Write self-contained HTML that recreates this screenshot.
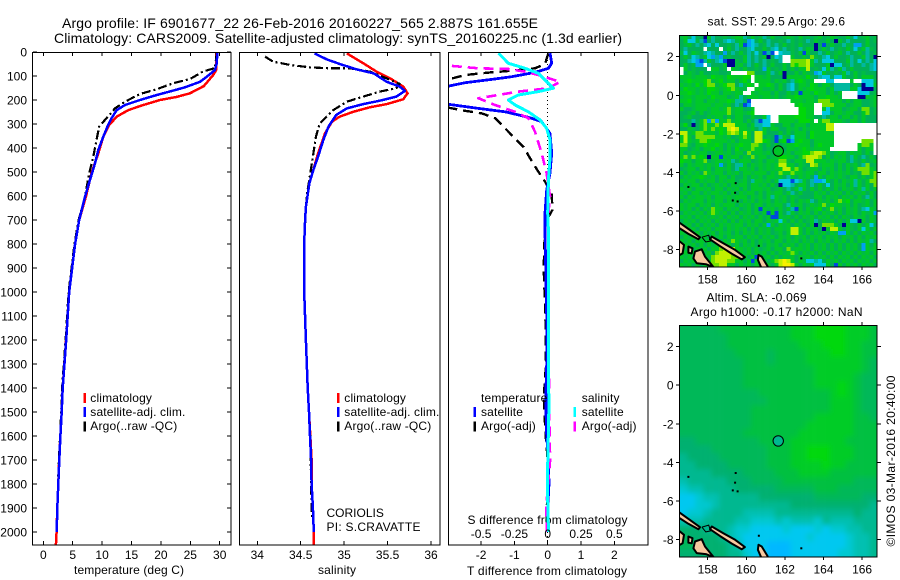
<!DOCTYPE html>
<html lang="en">
<head>
<meta charset="utf-8">
<title>Argo profile 6901677</title>
<style>
html,body{margin:0;padding:0;background:#fff;width:900px;height:580px;overflow:hidden}
svg{display:block}
text{font-family:"Liberation Sans",sans-serif;font-size:12px;fill:#000}
</style>
</head>
<body>
<svg id="figure" xmlns="http://www.w3.org/2000/svg" width="900" height="580" viewBox="0 0 900 580">
<defs>
<clipPath id="clip-t"><rect x="33" y="52" width="198" height="493"/></clipPath>
<clipPath id="clip-s"><rect x="240" y="52" width="200" height="493"/></clipPath>
<clipPath id="clip-d"><rect x="449" y="52" width="199" height="493"/></clipPath>
<clipPath id="clip-m1"><rect x="679.5" y="35" width="197.5" height="232"/></clipPath>
<clipPath id="clip-m2"><rect x="679.5" y="325" width="197.5" height="232"/></clipPath>
<filter id="soft" x="-5%" y="-5%" width="110%" height="110%"><feGaussianBlur stdDeviation="2.6"/></filter>
</defs>
<rect x="0" y="0" width="900" height="580" fill="#fff"/>
<text x="62" y="28" style="font-size:14px" textLength="476">Argo profile: IF 6901677_22 26-Feb-2016 20160227_565 2.887S 161.655E</text>
<text x="54" y="43" style="font-size:14px" textLength="568">Climatology: CARS2009. Satellite-adjusted climatology: synTS_20160225.nc (1.3d earlier)</text>
<text x="74" y="574" textLength="110">temperature (deg C)</text>
<text x="318" y="574" textLength="38">salinity</text>
<text x="467" y="575" textLength="160">T difference from climatology</text>
<text x="467.5" y="524" textLength="160">S difference from climatology</text>
<text x="326.5" y="517">CORIOLIS</text>
<text x="326.5" y="531" textLength="94">PI: S.CRAVATTE</text>
<text x="707.5" y="25.5" textLength="137.5">sat. SST: 29.5 Argo: 29.6</text>
<text x="706.5" y="301.5" textLength="100">Altim. SLA: -0.069</text>
<text x="690.5" y="316" textLength="172">Argo h1000: -0.17 h2000: NaN</text>
<text transform="translate(895,546.5) rotate(-90)" x="0" y="0" textLength="171">©IMOS 03-Mar-2016 20:40:00</text>
<g id="charts"></g>
</svg>
<script>
// ---- Profile data ----
const climDepth = [0,75,96,142,172,187,200,221,242,269,304,353,422,505,603,700,800,1000,1200,1400,1500,1600,1700,1800,1900,2000,2054];
const climTemp = [29.4,29.4,28.9,27.3,24.95,22.7,19.85,17,14.45,12.5,11.2,10.2,9.35,8.2,7.25,6.1,5.4,4.4,3.88,3.3,3.13,2.9,2.7,2.55,2.38,2.27,2.15];
const satDepth = [0,46,75,103,124,147,161,179,200,221,242,276,311,353,408,464,533,603,700,800,1000,1200,1400,1500,1600,1700,1800,1900,2000];
const satTemp = [29.6,29.5,29.2,27.8,26.65,24.1,22.1,19.3,16.45,13.9,12.5,11.6,10.9,10.2,9.35,8.8,7.95,7.1,6.1,5.4,4.4,3.9,3.3,3.13,2.9,2.72,2.55,2.38,2.28];
const argoDepth = [0,67,81,112,130,155,175,207,235,283,311,367,436,505,603,700,800,1000,1200,1400,1500,1600,1700,1800];
const argoTemp = [29.5,29.2,27.2,25,22.1,19.3,16.45,13.9,12.2,10.5,9.5,9.05,8.5,7.8,7.1,6.0,5.3,4.3,3.8,3.2,3.05,2.85,2.65,2.5];

const climSalDepth = [6,47,82,110,144,172,197,217,230,249,269,290,339,422,492,547,645,700,800,1000,1200,1400,1500,1600,1700,1800,1900,2000,2054];
const climSal = [35.03,35.22,35.375,35.53,35.68,35.73,35.68,35.49,35.30,35.105,34.95,34.86,34.78,34.70,34.645,34.60,34.56,34.55,34.54,34.54,34.56,34.58,34.595,34.61,34.625,34.625,34.64,34.65,34.65];
const satSalDepth = [6,31,50,72,89,124,144,162,186,203,217,235,262,311,367,436,492,547,645,700,800,1000,1200,1400,1500,1600,1700,1800,1900,2000];
const satSal = [34.66,34.80,34.95,35.14,35.34,35.49,35.64,35.70,35.60,35.41,35.22,35.03,34.91,34.82,34.76,34.70,34.645,34.60,34.56,34.55,34.54,34.54,34.56,34.58,34.595,34.607,34.62,34.625,34.64,34.65];
const argoSalDepth = [19,40,54,64,68,68,82,110,133,151,165,186,207,242,297,353,436,505,587,645,800,1000,1200,1400,1600,1800,1950];
const argoSal = [34.09,34.18,34.38,34.61,34.84,35.07,35.30,35.49,35.64,35.60,35.41,35.22,35.03,34.875,34.72,34.675,34.64,34.61,34.575,34.56,34.54,34.54,34.56,34.58,34.61,34.62,34.63];

const diffSatTDepth = [5,47,68,85,103,114,128,142,165,200,218,235,249,272,290,339,422,505,575,671,742,900,1100,1300,1400,1500,1600,1700,1800,1900,2000];
const diffSatT = [0.07,0.12,0.02,-0.38,-1.08,-1.68,-2.48,-2.98,-4,-4,-2.98,-2.08,-1.28,-0.58,-0.18,0.07,0.12,0.07,-0.03,-0.08,-0.08,-0.06,-0.03,-0.03,-0.05,-0.05,-0.03,0.02,0.04,0,0];
const diffArgoTDepth = [5,50,68,78,86,96,114,150,200,232,245,256,276,332,395,443,499,540,589,658,713,900,1100,1300,1400,1500,1600,1700,1800,1900,2000];
const diffArgoT = [0.02,-0.08,-0.38,-1.08,-1.78,-2.48,-2.98,-5,-5,-2.98,-2.48,-1.98,-1.58,-1.18,-0.73,-0.53,-0.28,-0.08,0.12,0.14,-0.08,-0.12,-0.07,-0.05,-0.1,-0.1,-0.06,0,0.02,-0.03,-0.02];
const diffSatSDepth = [5,47,68,89,117,151,165,179,200,221,249,283,318,367,436,533,671,742,1000,1500,1800,2000];
const diffSatS = [-0.37,-0.295,-0.17,-0.07,-0.02,0.043,-0.07,-0.22,-0.295,-0.245,-0.145,-0.058,-0.008,0.018,0.018,0.005,0,0.005,0.006,0.008,-0.003,0.006];
const diffArgoSDepth = [58,68,71,82,96,124,151,165,186,193,221,249,276,332,422,505,603,671,1000,1500,1700,1900,2000];
const diffArgoS = [-0.72,-0.52,-0.295,-0.17,-0.07,0.093,0.005,-0.22,-0.445,-0.52,-0.395,-0.245,-0.145,-0.095,-0.045,-0.008,0.018,0.005,0.004,0.012,0.018,-0.012,-0.005];

// ---- Tick labels ----
const depthTicks = [0,100,200,300,400,500,600,700,800,900,1000,1100,1200,1300,1400,1500,1600,1700,1800,1900,2000];
const tempTicks = [0,5,10,15,20,25,30];
const salTicks = [34,34.5,35,35.5,36];
const diffTTicks = [-2,-1,0,1,2];
const diffSTicks = [-0.5,-0.25,0,0.25,0.5];
const lonTicks = [158,160,162,164,166];
const latTicks = [2,0,-2,-4,-6,-8];

// ---- Float position ----
const floatLon = 161.655;
const floatLat = -2.887;

// ---- SST map cells (one character per cell, 50 columns, 58 rows) ----
const sstRows = [
"egdcd dngtd dedeg gtdgd etdgd deged gdede gdege ddgdc degde",
"dgcce tudtd dtcte gdlcd gdtdd edted edtdg ddgdn gdtdd ddgde",
"degdt dtcdc ddedt gulct detdt dgded gdddn dudgd dtedl ldgdd",
"dtddd d.ddd .dgdt ddtcd dgdtc dtded tdgen dgdtd edgdc dgted",
"ecdge dtctd dldtd gdtdc dutu. ctted gugdd tdgde gdtdd gdtde",
"dgdct dgclt ldedd dgtdt dgndc t..gd dgdye dtcdg ddetd dgtdn",
"ddtcl utgdt cunne dgtdt dtded t..yy yyYgt dcccd ddgtd cdtdc",
"dgdel l.tdd dgnne gdtdg dtdgd dgdyh yyYgd ddgnc cdetd dtdtc",
".gded dd.gg de.ge dgdde dlgde dgdgd ggYde dcgtd gtdgd dddtc",
".dged gddee dde.. ..yyd ddgtd gnddg dgedl cgdde dgtdg deddd",
"gggeg ggehg gehgg ghh.g gegdd dnggg gehed tccdc cgddg dgggd",
"eghgg ghyeg heggd ghe.g gggdg egdtg hgeg. ..cc. ...g. .ccce",
"gegeh ehyye ghyyd tehg. gghgd gdtcd ggehg dggdt tttdg dnccg",
"ehgge gehhg eghyg ee..g geegd gdtcd geghg ggdgt tttgg cnnnd",
"gghge gehgg dggeg g..ge gggdg ddgdg uggeh ggdgd g.... cccde",
"eggeg ggehg ggdeg tdggg eggeg deggh ggggd gghgg e.... nngeg",
"ggheg gdgge gghgt tdu.. ..... ...gg gegge yyygg gdgdg gddeg",
"dggeg gggeg gegdt dul.. ..... ....g hggg. .yyyg ggdeg gddeg",
"gddeg ggegg egyeg gddg. ..... ..... hhgg. .gcgg gdegg dyyde",
"ddegd gdegg ggyeg gegh. ..... ..... hhgg. .ccdg geggd dgyde",
"degdd ddgeg gdgdg gddgd dgc.. ggggh hhggd dtdgg dggdg dgddd",
"dddtd gylyl ggyeg gdgdt ucc.. gggge hhhg. gyygg gedgg dgddd",
"ehdnd gyggy gYYYg ggdgt tccgd dggdg ggdgg ggYY. ..... .....",
"ddged gygyg hgYZY ggegd tgdgg ddgeg dgegg ggYY. ..... .....",
"YYegy yggge hgyYy gYgdY Ygddd gdgdg ggdhg ggge. ..... .....",
"gYgdy yyyyg gegde gygdY Ydedu tgdcg ggdhg gggg. ..... .....",
"gYgeg yyhgg ggegd gggdY Yhgdu ghulg hggdg gggg. ..... .yyy.",
"yyedg ghggh gdgeg hggyy gdgdg deggh gggdg hggg. ..... gyyg.",
"ggdeg dgghe gdgdh eggyg gdedg gdgge ghgeg ggg.. ..... gdgg.",
"gdege ggdeg gegdg gdyeg gegdg gegdg ghhyY Yygde ggdge gdgd.",
"gyeyg hgngg ugegg dgeye ggdeg hhggd gyYYY ydgdg egdtg dtdgd",
"hggdg gydeg gegtd gggde gdgge yyedg geYYg ggege ggdte dgdeg",
"gdgeg gegeg ldgdt tgdge gegeg YYggd gedYy egggd gdgeg dtyde",
"deggd gegdg gegdt ggegd gegeg gYYgy gdegg dgegd gdgdg yyyge",
"gdgeg dygeg gdgeg dggeg ggdge yggyg geggd ggdge gegde dyygy",
"dgegg hgegd ggdgd dgdge gdgge gdtgd gegdl gdgge gedgg dgdgy",
"geggd geggd geggd egdtg gegdg cccuc tgdtl lcgdg dgegt gdgyy",
"dgegg dgdeg egdge ggdgg egdgd ncctd ggdtd gdcdg egdgt gdgdy",
"gegdg gegdg gdgeg dgdgg gegde gdtdg tgdgd gdgdg dgegd gtgdg",
"egdgg dgegg egdgd geggd gdgeg gdgtd gdddg egdge gdgdg egdgd",
"gdgeg gegdg gegeg ggdge gdgtg egdge ddddg gdgeg dgegd gdtgd",
"dgegg gdgeg gdgeg dgegd gegdg egdgd gegtd gegdg yghdg gegdg",
"geggd gegdg egggd gegdg gdgeg gdtge gdege gyehg gegdg degdg",
"gegdg dgeyg gdgeg degdg ugegd gdgtu gdgeg hdgye gdgeg dtcge",
"dgege gdgyg egdgd gegdg dgugu gdtgd gegdg dgegd gdgeg dgegl",
"gegdg egege gdgeg dgegd gdguu gegdg dgegd gegdg dgedg egdge",
"dgegd gegdg egdgd gegdg gdgeg cgdgd gdegt dgegd gdgcc ngdge",
"gegdg dgegd gegeg gdgeg dglgd gegdg egdgn dyyyg dnged gdgcd",
"dgegd gegdg gdgeg egdgd gegdg gegYY gdgeg dngYY gdged gcgdg",
"gegdg dgegd gegdg dgegd gegde gdgYY gdgdg egdge llgdg dgegd",
"dgegg egdge gdgeg gdgeg dgegd gegdg egdge gdgeg dgegd gdgeg",
"gegdg gegdg dgeyg egdgd gegdg gdgeg dgegd gegdg egdgd gegtd",
"dgegd gdgeg gegdg dgegd gdgeg dgegd gegdg egdgd gdgeg dlgdg",
"gegdg egdgg yYYYg gegdg degdg gdyeg gegdg egdgd gdgeg dlgeg",
"dgegd gegdy YYYYy gegdg egdgd gegyg dgegd gdgeg dgegd gegdg",
"gegdg dgeyY YYYyy egdgu gegdg dgegd gegdg egdgd gegdg dgegd",
"dgegd gegyY YYyyg gdgug egdgy YZYgd gecct cdgeg dgegd gegdg",
"gegdg dgeyy YYggd gegdg gegdg YZZYg dgegc ccgdu gdgeg dgegd"
];

// ---- Sea level map cells (0 = green ... 9 = light blue; 25 columns, 29 rows) ----
const slaRows = [
"3333322222222211100001112",
"3333332222222211100001112",
"3333332222222221110001122",
"3333333222232222111001122",
"3333333322232222111111123",
"3333333322222222211111123",
"3333333322222222211111233",
"3333333322222222211101233",
"3333333333222222222101233",
"3333333333322222222111233",
"3333333332222222222111233",
"3333333332222222211111223",
"3333333332222222111111222",
"3333333322222221111111222",
"4433333333222211111112222",
"4444333333322211000111222",
"5444433333322211000111222",
"5544443333322211110112222",
"5555444433332221111222222",
"6555554443333222222222333",
"7665555444443333322233333",
"8876655555444444433333344",
"8877655555555544444444445",
"8776555566665555555555455",
"6665555667776766675666555",
"4445556778888788878776655",
"3444456788888888788887665",
"3344445688899988888887665",
"4444445578899988888877665"
];

// ---- Coastline (lon/lat) ----
const islandLons = [
 [156.4,157.08,157.60,157.52,157.0,156.4],
 [158.21,158.81,159.42,159.93,159.76,159.24,158.64,158.12],
 [156.4,156.77,156.70,156.4],
 [157.0,157.21,157.17,157.0],
 [157.34,157.69,157.86,158.3,157.9,157.43,157.26],
 [160.63,160.8,161.1,161.14,160.85,160.6]
];
const islandLats = [
 [-6.5,-6.98,-7.36,-7.46,-7.18,-6.8],
 [-7.32,-7.67,-8.01,-8.39,-8.5,-8.2,-7.82,-7.46],
 [-7.45,-7.75,-8.19,-8.35],
 [-7.84,-7.93,-8.19,-8.16],
 [-8.10,-7.98,-8.36,-8.9,-8.75,-8.7,-8.45],
 [-8.27,-8.36,-8.85,-9.1,-9.1,-8.53]
];
const isletLons = [157.0,159.45,159.42,159.3,159.55,160.65,162.85];
const isletLats = [-4.75,-4.55,-5.05,-5.45,-5.5,-7.8,-8.45];
const reefLons = [157.7,158.05,158.15,157.9,157.7];
const reefLats = [-7.35,-7.25,-7.55,-7.6,-7.35];

// ---- Axis functions ----
function depthY(d){return 52+0.24*d;}
function tempX(t){return 43.3+5.88*t;}
function salX(s){return 257.3+86.85*(s-34);}
function diffTX(v){return 547.7+33.3*v;}
function diffSX(v){return 547.7+133.2*v;}
function lonX(l){return 707.7+19.3*(l-158);}
function latY1(l){return 95.3-19.3*l;}
function latY2(l){return 385.2-19.3*l;}

const sstPalette = {'.':'#ffffff',n:'#000090',u:'#0048e0',l:'#00a0f0',c:'#00c8e0',t:'#00b8a0',d:'#00b058',e:'#00bc44',g:'#00c828',h:'#00d808',y:'#70e000',Y:'#c0f000',Z:'#f8f000'};
const slaPalette = ['#00d810','#00cc28','#00c040','#00b858','#00b070','#00b890','#00c0b0','#00c8d0','#00c8f0','#00b8ff'];

const NS = 'http://www.w3.org/2000/svg';
const root = document.getElementById('charts');
function mk(tag, attrs, parent){
  const el = document.createElementNS(NS, tag);
  for (const k in attrs) el.setAttribute(k, attrs[k]);
  (parent || root).appendChild(el);
  return el;
}
function drawSeries(parent, depths, values, xFn, color, width, dash, name){
  const pts = depths.map(function(d,i){return xFn(values[i]).toFixed(1)+','+depthY(d).toFixed(1);}).join(' ');
  const attrs = {points:pts, fill:'none', stroke:color, 'stroke-width':width, 'shape-rendering':'crispEdges', 'stroke-linejoin':'round'};
  if (dash) attrs['stroke-dasharray'] = dash;
  const el = mk('polyline', attrs, parent);
  
  
  return el;
}
function frame(x, y, w, h, name){
  const el = mk('rect', {x:x, y:y, width:w, height:h, fill:'none', stroke:'#000', 'stroke-width':1, 'shape-rendering':'crispEdges'});
  
  
  return el;
}
function tick(x1, y1, x2, y2){
  const el = mk('line', {x1:x1, y1:y1, x2:x2, y2:y2, stroke:'#000', 'stroke-width':1, 'shape-rendering':'crispEdges'});
  
  
  return el;
}
function tickLabel(x, y, anchor, str){
  const el = mk('text', {x:x, y:y, 'text-anchor':anchor});
  el.textContent = str;
  
  
  return el;
}
function swatch(x, y, color, name){
  const el = mk('rect', {x:x, y:y, width:2.4, height:10, fill:color, 'shape-rendering':'crispEdges'});
  
  
  return el;
}
function legendText(x, y, str, name){
  const el = mk('text', {x:x, y:y, 'letter-spacing':'0.16'});
  el.textContent = str;
  
  
  return el;
}

// ---- Temperature panel ----
const gT = mk('g', {'clip-path':'url(#clip-t)'});


drawSeries(gT, climDepth, climTemp, tempX, '#ff0000', 2.5, null, 'temperature-climatology-line');
drawSeries(gT, argoDepth, argoTemp, tempX, '#000000', 2.2, '9 3 2 3', 'temperature-argo-line');
drawSeries(gT, satDepth, satTemp, tempX, '#0000ff', 2.5, null, 'temperature-satellite-line');
frame(32.5, 52.5, 198.5, 492.5, 'temperature-panel-frame');
depthTicks.forEach(function(d){
  tick(33, depthY(d), 37, depthY(d));
  tick(227, depthY(d), 231, depthY(d));
  tickLabel(27, depthY(d)+4.5, 'end', String(d));
});
tempTicks.forEach(function(t){
  tick(tempX(t), 52, tempX(t), 56);
  tick(tempX(t), 541, tempX(t), 545);
  tickLabel(tempX(t), 559, 'middle', String(t));
});
swatch(83.5, 393, '#ff0000', 'legend-swatch-climatology');
swatch(83.5, 407, '#0000ff', 'legend-swatch-satellite');
swatch(83.5, 421.5, '#000000', 'legend-swatch-argo');
legendText(90.3, 402, 'climatology', 'legend-climatology');
legendText(90.3, 416, 'satellite-adj. clim.', 'legend-satellite');
legendText(90.3, 430, 'Argo(..raw -QC)', 'legend-argo');

// ---- Salinity panel ----
const gS = mk('g', {'clip-path':'url(#clip-s)'});


drawSeries(gS, climSalDepth, climSal, salX, '#ff0000', 2.5, null, 'salinity-climatology-line');
drawSeries(gS, argoSalDepth, argoSal, salX, '#000000', 2.2, '9 3 2 3', 'salinity-argo-line');
drawSeries(gS, satSalDepth, satSal, salX, '#0000ff', 2.5, null, 'salinity-satellite-line');
frame(239.5, 52.5, 200.5, 492.5, 'salinity-panel-frame');
salTicks.forEach(function(s){
  tick(salX(s), 52, salX(s), 56);
  tick(salX(s), 541, salX(s), 545);
  tickLabel(salX(s), 559, 'middle', String(s));
});
swatch(337, 393, '#ff0000', 'legend-swatch-climatology-salinity');
swatch(337, 407, '#0000ff', 'legend-swatch-satellite-salinity');
swatch(337, 421.5, '#000000', 'legend-swatch-argo-salinity');
legendText(344.3, 402, 'climatology', 'legend-climatology-salinity');
legendText(344.3, 416, 'satellite-adj. clim.', 'legend-satellite-salinity');
legendText(344.3, 430, 'Argo(..raw -QC)', 'legend-argo-salinity');

// ---- Difference panel ----
const gD = mk('g', {'clip-path':'url(#clip-d)'});


const zeroLine = mk('line', {x1:diffTX(0), y1:depthY(0), x2:diffTX(0), y2:depthY(2054), stroke:'#000', 'stroke-width':1, 'stroke-dasharray':'1 3', 'shape-rendering':'crispEdges'}, gD);


drawSeries(gD, diffArgoTDepth, diffArgoT, diffTX, '#000000', 2.4, '10 6', 'difference-argo-temperature-line');
drawSeries(gD, diffSatTDepth, diffSatT, diffTX, '#0000ff', 2.8, null, 'difference-satellite-temperature-line');
drawSeries(gD, diffArgoSDepth, diffArgoS, diffSX, '#ff00ff', 2.6, '10 6', 'difference-argo-salinity-line');
drawSeries(gD, diffSatSDepth, diffSatS, diffSX, '#00ffff', 3, null, 'difference-satellite-salinity-line');
frame(448.5, 52.5, 199.5, 492.5, 'difference-panel-frame');
diffTTicks.forEach(function(v){
  tick(diffTX(v), 52, diffTX(v), 56);
  tick(diffTX(v), 541, diffTX(v), 545);
  tickLabel(diffTX(v), 559, 'middle', String(v));
});
diffSTicks.forEach(function(v){
  tickLabel(diffSX(v), 538, 'middle', String(v));
});
legendText(481, 402, 'temperature', 'legend-heading-temperature');
legendText(481, 416, 'satellite', 'legend-temperature-satellite');
legendText(481, 430, 'Argo(-adj)', 'legend-temperature-argo');
swatch(473.5, 407, '#0000ff', 'legend-swatch-temperature-satellite');
swatch(473.5, 421.5, '#000000', 'legend-swatch-temperature-argo');
legendText(581.7, 402, 'salinity', 'legend-heading-salinity');
legendText(581.7, 416, 'satellite', 'legend-salinity-satellite');
legendText(581.7, 430, 'Argo(-adj)', 'legend-salinity-argo');
swatch(573.5, 407, '#00ffff', 'legend-swatch-salinity-satellite');
swatch(573.5, 421.5, '#ff00ff', 'legend-swatch-salinity-argo');

// ---- Maps ----
function drawCoast(parent, latFn, width){
  islandLons.forEach(function(lons, i){
    const pts = lons.map(function(l, j){return lonX(l).toFixed(1)+','+latFn(islandLats[i][j]).toFixed(1);}).join(' ');
    const el = mk('polygon', {points:pts, fill:'#f8c8a0', stroke:'#000', 'stroke-width':width, 'stroke-linejoin':'round'}, parent);
    
    
  });
  const reefPts = reefLons.map(function(l, j){return lonX(l).toFixed(1)+','+latFn(reefLats[j]).toFixed(1);}).join(' ');
  const reef = mk('polyline', {points:reefPts, fill:'none', stroke:'#000', 'stroke-width':1}, parent);
  
  
  isletLons.forEach(function(l, i){
    const el = mk('rect', {x:lonX(l)-1, y:latFn(isletLats[i])-1, width:2, height:2, fill:'#000'}, parent);
    
    
  });
}
function mapAxes(top, bottom, latFn, labelBase, name){
  frame(679.5, top+0.5, 197.5, bottom-top-0.5, name);
  lonTicks.forEach(function(l){
    tick(lonX(l), top-3, lonX(l), top);
    tick(lonX(l), bottom, lonX(l), bottom+3);
    tickLabel(lonX(l), labelBase, 'middle', String(l));
  });
  latTicks.forEach(function(l){
    tick(676, latFn(l), 679.5, latFn(l));
    tick(877, latFn(l), 881, latFn(l));
    tickLabel(673.5, latFn(l)+4.5, 'end', String(l));
  });
}

// SST map
const gM1 = mk('g', {'clip-path':'url(#clip-m1)'});


sstRows.forEach(function(row, r){
  const cells = row.replace(/ /g, '');
  for (let c = 0; c < 50; c++){
    const cell = mk('rect', {x:679.5+c*3.96, y:35+r*4, width:4.1, height:4.1, fill:sstPalette[cells.charAt(c)] || sstPalette.g, 'shape-rendering':'crispEdges'}, gM1);
    
    
  }
});
drawCoast(gM1, latY1, 2);
const marker1 = mk('circle', {cx:lonX(floatLon), cy:latY1(floatLat), r:5.2, fill:'#00c428', stroke:'#000', 'stroke-width':1});


mapAxes(35, 267, latY1, 283.5, 'sst-map-frame');

// SLA map
const gM2 = mk('g', {'clip-path':'url(#clip-m2)'});


const gM2Cells = mk('g', {filter:'url(#soft)'}, gM2);


slaRows.forEach(function(row, r){
  for (let c = 0; c < 25; c++){
    const x = 679.5+c*7.92, y = 325+r*8;
    const x0 = c === 0 ? x-10 : x, y0 = r === 0 ? y-10 : y;
    const x1 = c === 24 ? x+18 : x+8.1, y1 = r === 28 ? y+18 : y+8.1;
    const cell = mk('rect', {x:x0, y:y0, width:x1-x0, height:y1-y0, fill:slaPalette[+row.charAt(c)]}, gM2Cells);
    
    
  }
});
drawCoast(gM2, latY2, 2);
const marker2 = mk('circle', {cx:lonX(floatLon), cy:latY2(floatLat), r:5.2, fill:'#00b890', stroke:'#000', 'stroke-width':1});


mapAxes(325, 557, latY2, 573.5, 'sla-map-frame');
</script>
</body>
</html>
